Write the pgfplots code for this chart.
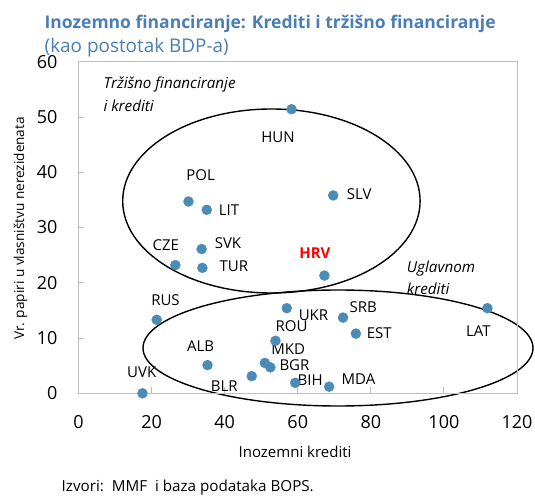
\documentclass[border=0pt]{standalone}
\usepackage{pgfplots}
\pgfplotsset{compat=1.18}
\usepackage{fontspec}
\setmainfont{Open Sans}
\definecolor{pt}{HTML}{4A8CB6}
\definecolor{tt}{HTML}{4A7EB5}
\definecolor{fr}{HTML}{BFBFBF}
\begin{document}
\begin{tikzpicture}
\useasboundingbox (-78.5pt,-101.7pt) rectangle (456.5pt,393.3pt);
\draw[line width=1.4pt] (192.9pt,192.3pt) ellipse [x radius=148.7pt, y radius=92pt];
\draw[line width=1.4pt] (259.5pt,45.3pt) ellipse [x radius=195pt, y radius=58pt];
\begin{axis}[
  scale only axis, width=438.5pt, height=331.6pt,
  xmin=0, xmax=120, ymin=0, ymax=60,
  xtick={0,20,...,120}, ytick={0,10,...,60},
  tick pos=left, tick align=inside, major tick length=6pt,
  axis line style={fr, line width=0.9pt},
  tick style={fr, line width=0.9pt},
  clip=false,
  /pgf/number format/assume math mode=true,
  ticklabel style={font=\fontsize{18}{18}\selectfont},
  xticklabel style={yshift=-19pt},
  yticklabel style={xshift=-17.5pt},
]
\addplot[only marks, mark=*, mark size=5pt, color=pt] table {
x y
58.3 51.4
69.7 35.8
30.1 34.7
35.1 33.2
33.7 26.1
26.5 23.2
33.9 22.7
67.3 21.3
21.4 13.3
35.3 5.1
17.5 0
57.0 15.4
53.9 9.5
51.0 5.5
52.5 4.7
47.4 3.1
59.3 1.9
72.4 13.7
75.9 10.8
111.9 15.4
68.6 1.2
};
\begin{scope}[every node/.style={font=\fontsize{15}{15}\selectfont, inner sep=0pt, text height=0.72em, text depth=0pt, anchor=center}]
\node at (axis cs:54.6,46.0) {HUN};
\node at (axis cs:76.8,35.8) {SLV};
\node at (axis cs:33.4,39.2) {POL};
\node at (axis cs:41.2,32.9) {LIT};
\node at (axis cs:40.9,26.8) {SVK};
\node at (axis cs:23.9,26.4) {CZE};
\node at (axis cs:42.5,22.7) {TUR};
\node[text=red, font=\fontsize{15}{15}\selectfont\bfseries] at (axis cs:64.7,25.0) {HRV};
\node at (axis cs:23.8,16.6) {RUS};
\node at (axis cs:33.4,8.3) {ALB};
\node at (axis cs:17.3,3.5) {UVK};
\node at (axis cs:39.9,0.9) {BLR};
\node at (axis cs:64.3,13.9) {UKR};
\node at (axis cs:77.9,15.3) {SRB};
\node at (axis cs:82.3,10.5) {EST};
\node at (axis cs:109.4,10.9) {LAT};
\node at (axis cs:58.3,11.8) {ROU};
\node at (axis cs:57.4,7.7) {MKD};
\node at (axis cs:59.1,4.8) {BGR};
\node at (axis cs:63.4,2.1) {BIH};
\node at (axis cs:76.6,2.2) {MDA};
\end{scope}
\end{axis}
% titles and labels
\node[anchor=base west, inner sep=0pt, text=tt, font=\fontsize{17.5}{17.5}\selectfont\bfseries] at (-34pt,364.3pt) {Inozemno financiranje: Krediti i tržišno financiranje};
\node[anchor=base west, inner sep=0pt, text=tt, font=\fontsize{18.9}{18.9}\selectfont] at (-34pt,340.6pt) {(kao postotak BDP-a)};
\node[anchor=west, inner sep=0pt, font=\fontsize{15.2}{15.2}\selectfont\itshape] at (24.8pt,308.3pt) {Tržišno financiranje};
\node[anchor=west, inner sep=0pt, font=\fontsize{15.2}{15.2}\selectfont\itshape] at (24.8pt,287.3pt) {i krediti};
\node[anchor=west, inner sep=0pt, font=\fontsize{15.2}{15.2}\selectfont\itshape] at (328.2pt,124.3pt) {Uglavnom};
\node[anchor=west, inner sep=0pt, font=\fontsize{15.2}{15.2}\selectfont\itshape] at (328.2pt,104.3pt) {krediti};
\node[rotate=90, inner sep=0pt, font=\fontsize{13.6}{13.6}\selectfont] at (-58pt,164.8pt) {Vr. papiri u vlasništvu nerezidenata};
\node[inner sep=0pt, font=\fontsize{15}{15}\selectfont] at (216.5pt,-58.7pt) {Inozemni krediti};
\node[anchor=base west, inner sep=0pt, font=\fontsize{15.2}{15.2}\selectfont] at (-17pt,-98.4pt) {Izvori:\ \ MMF\ \ i baza podataka BOPS.};
\end{tikzpicture}
\end{document}
